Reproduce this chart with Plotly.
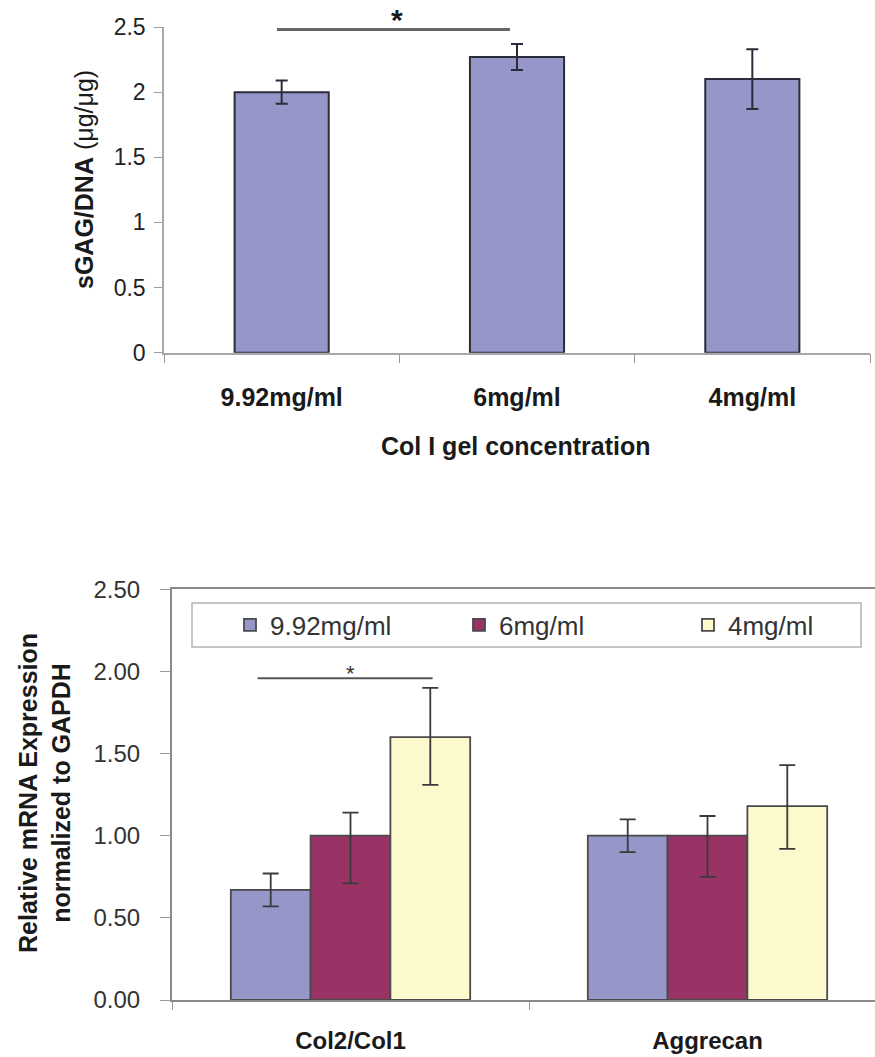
import plotly.graph_objects as go

# --- sGAG/DNA per gel concentration ---
gel_conc = ["9.92mg/ml", "6mg/ml", "4mg/ml"]
sgag_dna = [2.00, 2.27, 2.10]
sgag_err = [0.09, 0.10, 0.23]

# --- relative mRNA expression (normalized to GAPDH) ---
genes = ["Col2/Col1", "Aggrecan"]
series_names = ["9.92mg/ml", "6mg/ml", "4mg/ml"]
expr_992 = [0.67, 1.00]
expr_6 = [1.00, 1.00]
expr_4 = [1.60, 1.18]
err_up_992 = [0.10, 0.10]
err_dn_992 = [0.10, 0.10]
err_up_6 = [0.14, 0.12]
err_dn_6 = [0.29, 0.25]
err_up_4 = [0.30, 0.25]
err_dn_4 = [0.29, 0.26]

top_ticks = [0, 0.5, 1, 1.5, 2, 2.5]
bottom_ticks = [0, 0.5, 1.0, 1.5, 2.0, 2.5]

W, H = 875, 1057
FONT = "Liberation Sans, Arial, sans-serif"
PERI = "#9696C8"
MAROON = "#993366"
CREAM = "#FCF9CC"
TXT = "#1a1a1a"

fig = go.Figure()

# top panel
fig.add_trace(go.Bar(
    x=gel_conc, y=sgag_dna, xaxis="x", yaxis="y",
    width=0.4, offset=-0.2,
    marker=dict(color=PERI, line=dict(color="#2b2b3a", width=2)),
    error_y=dict(type="data", array=sgag_err, color="#2b2b3a", thickness=2, width=6),
    showlegend=False,
))

# bottom panel, three series side by side
bw = 0.2235
colors = [PERI, MAROON, CREAM]
vals = [expr_992, expr_6, expr_4]
ups = [err_up_992, err_up_6, err_up_4]
dns = [err_dn_992, err_dn_6, err_dn_4]
for i, name in enumerate(series_names):
    fig.add_trace(go.Bar(
        x=genes, y=vals[i], name=name, xaxis="x2", yaxis="y2",
        width=bw, offset=-1.5 * bw + i * bw,
        marker=dict(color=colors[i], line=dict(color="#4a4a4a", width=1.8)),
        error_y=dict(type="data", symmetric=False, array=ups[i], arrayminus=dns[i],
                     color="#3a3a3a", thickness=1.8, width=8),
    ))

axis_common = dict(showgrid=False, zeroline=False, ticks="outside",
                   tickcolor="#9a9a9a", showline=True)

fig.update_layout(
    width=W, height=H,
    margin=dict(l=0, r=0, t=0, b=0, autoexpand=False),
    paper_bgcolor="white", plot_bgcolor="white",
    font=dict(family=FONT, color=TXT),
    barmode="overlay",
)

fig.layout.xaxis = dict(
    domain=[164 / W, 870 / W], anchor="y", type="category",
    range=[-0.5, 2.5], tickson="boundaries", ticklen=9,
    linecolor="#a8a8a8", linewidth=1.5,
    tickfont=dict(size=25, family=FONT, color=TXT, weight="bold"),
    ticklabelstandoff=22, **axis_common,
)
fig.layout.yaxis = dict(
    domain=[(H - 352.7) / H, (H - 27) / H], anchor="x",
    range=[0, 2.5], tickvals=top_ticks, ticktext=[f"{t:g}" for t in top_ticks],
    ticklen=8, linecolor="#a8a8a8", linewidth=1.5,
    tickfont=dict(size=23, family=FONT, color="#222"),
    ticklabelstandoff=4, **axis_common,
)
fig.layout.xaxis2 = dict(
    domain=[172 / W, 1.0], anchor="y2", type="category",
    range=[-0.5, 1.5 - 11 / 357], tickson="boundaries", ticklen=8,
    linecolor="#8a8a8a", linewidth=2, mirror=True,
    tickfont=dict(size=24, family=FONT, color=TXT, weight="bold"),
    ticklabelstandoff=18, **axis_common,
)
fig.layout.yaxis2 = dict(
    domain=[(H - 1000) / H, (H - 589.3) / H], anchor="x2",
    range=[0, 2.5], tickvals=bottom_ticks, tickformat=".2f",
    ticklen=10, linecolor="#8a8a8a", linewidth=2,
    tickfont=dict(size=24, family=FONT, color="#333"),
    ticklabelstandoff=15, **axis_common,
)

fig.update_layout(
    legend=dict(
        orientation="h", x=230 / W, xanchor="left", y=(H - 625) / H, yanchor="middle",
        borderwidth=0, bgcolor="rgba(0,0,0,0)",
        font=dict(size=26, family=FONT, color="#333"),
        entrywidth=184,
    ),
    shapes=[
        # legend frame
        dict(type="rect", xref="paper", yref="paper",
             x0=192 / W, x1=861 / W, y0=(H - 647) / H, y1=(H - 603) / H,
             line=dict(color="#b4b4b4", width=1.5), fillcolor="white", layer="below"),
        dict(type="line", xref="x", yref="y", x0=-0.02, x1=0.97, y0=2.48, y1=2.48,
             line=dict(color="#666", width=3)),
        dict(type="line", xref="x2", yref="y2", x0=-0.26, x1=0.23, y0=1.958, y1=1.958,
             line=dict(color="#555", width=2)),
    ],
    annotations=[
        dict(text="<b>*</b>", xref="x", yref="paper", x=0.49, y=(H - 19) / H,
             xanchor="center", yanchor="middle",
             showarrow=False, font=dict(size=30, color=TXT)),
        dict(text="*", xref="x2", yref="y2", x=0.0, y=1.99,
             xanchor="center", yanchor="middle",
             showarrow=False, font=dict(size=22, color="#333")),
        dict(text="<b>sGAG/DNA</b> (μg/μg)", textangle=-90, xref="paper", yref="paper",
             x=84 / W, y=(H - 180) / H, xanchor="center", yanchor="middle",
             showarrow=False, font=dict(size=25, color=TXT)),
        dict(text="<b>Col I gel concentration</b>", xref="paper", yref="paper",
             x=515 / W, y=(H - 446) / H, xanchor="center", yanchor="middle",
             showarrow=False, font=dict(size=25, color=TXT)),
        dict(text="<b>Relative mRNA Expression</b><br><b>normalized to GAPDH</b>",
             textangle=-90, xref="paper", yref="paper",
             x=44 / W, y=(H - 793) / H, xanchor="center", yanchor="middle",
             showarrow=False, font=dict(size=25, color=TXT)),
    ],
)

fig.write_html("out.html")
